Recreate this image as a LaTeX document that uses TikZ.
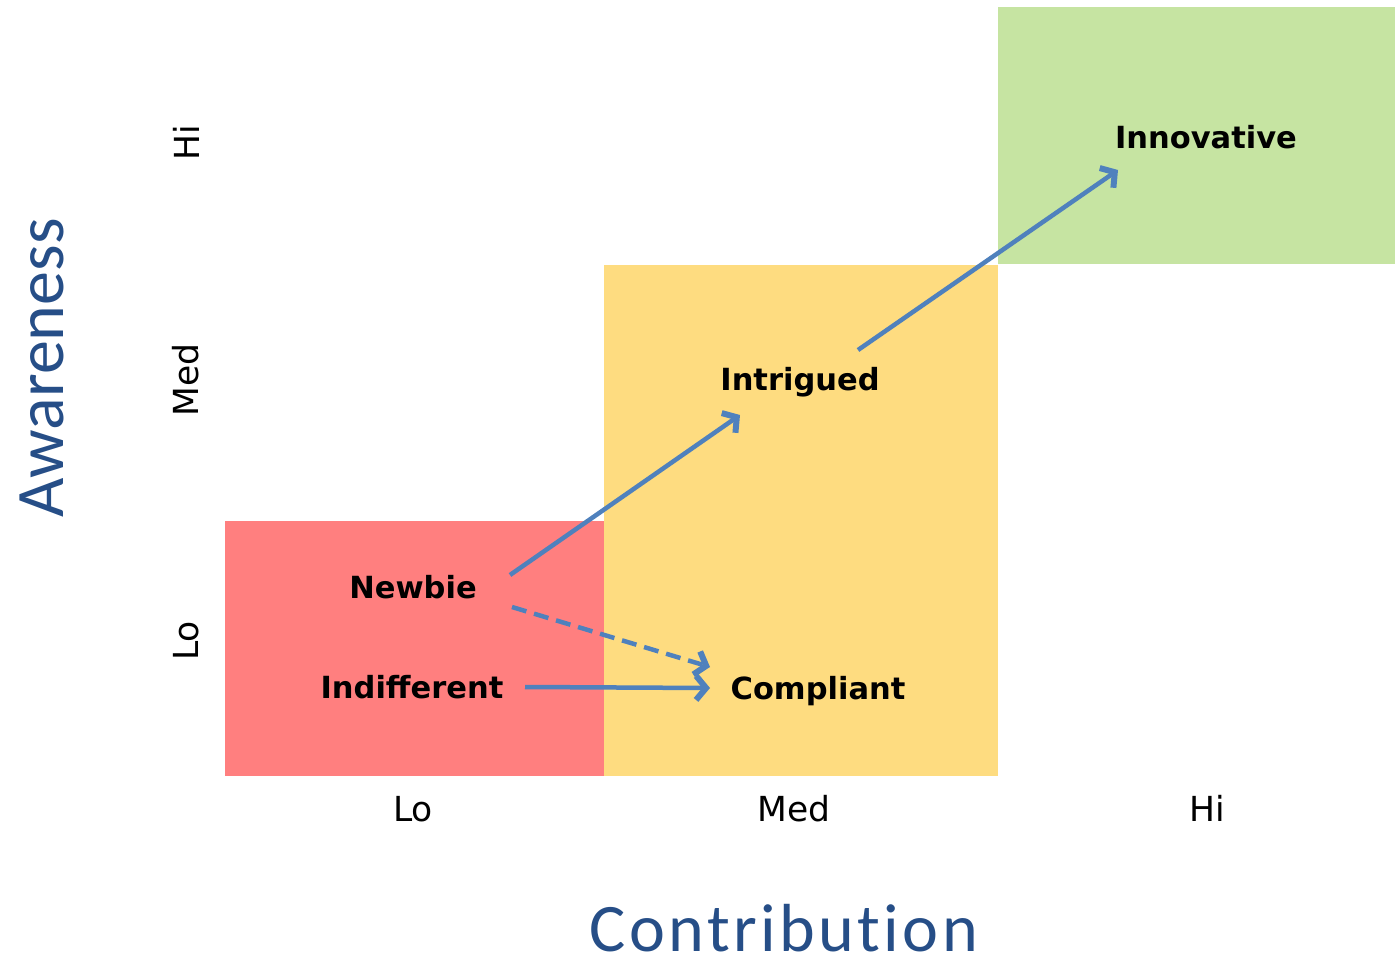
\documentclass[tikz,border=0pt]{standalone}
\usepackage{fontspec}
\setmainfont{DejaVu Sans}
\newfontfamily\titlefont[Ligatures=NoCommon]{Carlito}
\usetikzlibrary{arrows.meta,calc}

\definecolor{lored}{RGB}{255,127,127}
\definecolor{medyellow}{RGB}{254,220,128}
\definecolor{higreen}{RGB}{198,228,162}
\definecolor{flowblue}{RGB}{79,129,189}
\definecolor{titleblue}{RGB}{38,78,135}

\tikzset{
  stage/.style={anchor=base,inner sep=0pt,font=\fontsize{30.5}{36}\bfseries\selectfont},
  tick/.style={anchor=base,inner sep=0pt,font=\fontsize{34.5}{40}\selectfont},
  axistitle/.style={anchor=base,inner sep=0pt,text=titleblue,font=\fontsize{68}{80}\titlefont},
  flow/.style={draw=flowblue,line width=4.5pt,-{Straight Barb[length=10pt,width=24pt,line width=6pt]}}
}

\begin{document}
\begin{tikzpicture}[x=1pt,y=-1pt]
      \useasboundingbox (0,0) rectangle (1395,963);

      % the three zones
      \fill[lored] (225,521) rectangle (604,776);
      \fill[medyellow] (604,265) rectangle (998,776);
      \fill[higreen] (998,7) rectangle (1395,264);

      % stages
      \node[stage] (newbie) at (413,598) {Newbie};
      \node[stage] (indiff) at (412,698) {Indifferent};
      \node[stage] (compliant) at (818,699) {Compliant};
      \node[stage] (intrigued) at (800,390) {Intrigued};
      \node[stage] (innovative) at (1206,149) {Innovative};

      % moves between stages
      \draw[flow] ($(newbie.base)+(97,-23)$) -- ($(intrigued.base)+(-60,25)$);
      \draw[flow] ($(intrigued.base)+(58,-40)$) -- ($(innovative.base)+(-88,21)$);
      \draw[flow,dash pattern=on 15pt off 8pt] ($(newbie.base)+(99,9)$) -- ($(compliant.base)+(-108,-32)$);
      \draw[flow] ($(indiff.base)+(113,-11)$) -- ($(compliant.base)+(-108,-11)$);

      % axis ticks
      \node[tick] (xlo) at (413,821) {Lo};
      \node[tick] (xmed) at (794,821) {Med};
      \node[tick] (xhi) at (1207,821) {Hi};
      \node[tick,rotate=90] (ylo) at (198,641) {Lo};
      \node[tick,rotate=90] (ymed) at (198,380) {Med};
      \node[tick,rotate=90] (yhi) at (199,143) {Hi};

      % axis titles
      \node[axistitle] (xtitle) at (784,951) {\addfontfeature{LetterSpace=5}Contribution};
      \node[axistitle,rotate=90] (ytitle) at (63,368) {Awareness};
    \end{tikzpicture}
\end{document}
